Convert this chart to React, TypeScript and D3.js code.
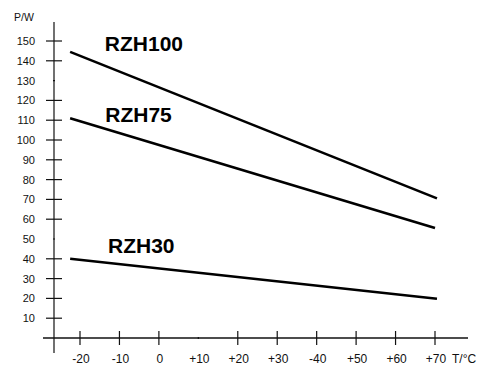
import React from "react";
import * as d3 from "d3";

const xTicks = [-20, -10, 0, 10, 20, 30, 40, 50, 60, 70];
const xTickLabels = ["-20", "-10", "0", "+10", "+20", "+30", "-40", "+50", "+60", "+70"];
const minorXTicks = [10];
const yTicks = [10, 20, 30, 40, 50, 60, 70, 80, 90, 100, 110, 120, 130, 140, 150];
const minorYTicks = [50, 130];

const seriesNames = ["RZH100", "RZH75", "RZH30"];
const tempStart = [-22.5, -22.5, -22.5];
const tempEnd = [70.5, 70, 70.5];
const powerStart = [144.5, 111, 40];
const powerEnd = [70.5, 55.5, 19.8];
const labelTemp = [-13.7, -13.6, -12.9];
const labelPower = [145.2, 109.3, 42.9];

export default function App() {
  const W = 488, H = 368;
  const x = d3.scaleLinear().domain([-20, 70]).range([80, 435]);
  const y = d3.scaleLinear().domain([0, 150]).range([338, 41]);
  const x0 = 54;
  const y0 = y(0);
  const line = d3.line<[number, number]>().x(d => x(d[0])).y(d => y(d[1]));
  const font = "'Liberation Sans', Arial, Helvetica, sans-serif";

  return (
    <svg width={W} height={H} style={{ position: "absolute", left: 0, top: 0, background: "#fff" }} fontFamily={font}>
      <rect x={0} y={0} width={W} height={H} fill="#fff" />
      {/* axes */}
      <line x1={x0} x2={x0} y1={22} y2={353} stroke="#111" strokeWidth={1.2} />
      <line x1={43} x2={468} y1={y0} y2={y0} stroke="#111" strokeWidth={1.5} />
      {/* y ticks */}
      {yTicks.map(t => {
        const minor = minorYTicks.includes(t);
        return (
          <g key={"y" + t}>
            <line x1={minor ? x0 - 1 : x0 - 8} x2={minor ? x0 + 1 : x0 + 8} y1={y(t)} y2={y(t)} stroke="#111" strokeWidth={1.2} />
            <text x={35} y={y(t) + 4} fontSize={11} textAnchor="end" fill="#111">{t}</text>
          </g>
        );
      })}
      <text x={14} y={21} fontSize={10.5} fill="#111">P/W</text>
      {/* x ticks */}
      {xTicks.map((t, i) => {
        const minor = minorXTicks.includes(t);
        return (
          <g key={"x" + t}>
            <line x1={x(t)} x2={x(t)} y1={minor ? y0 - 1 : y0 - 7} y2={minor ? y0 + 1 : y0 + 7} stroke="#111" strokeWidth={1.2} />
            <text x={x(t) + 1} y={363} fontSize={12} textAnchor="middle" fill="#111">{xTickLabels[i]}</text>
          </g>
        );
      })}
      <text x={452} y={363} fontSize={12} fill="#111">T/°C</text>
      {/* series */}
      {seriesNames.map((name, i) => (
        <g key={name}>
          <path
            d={line([[tempStart[i], powerStart[i]], [tempEnd[i], powerEnd[i]]]) || ""}
            stroke="#000"
            strokeWidth={2.6}
            fill="none"
          />
          <text x={x(labelTemp[i])} y={y(labelPower[i])} fontSize={21} fontWeight="bold" fill="#000">{name}</text>
        </g>
      ))}
    </svg>
  );
}
